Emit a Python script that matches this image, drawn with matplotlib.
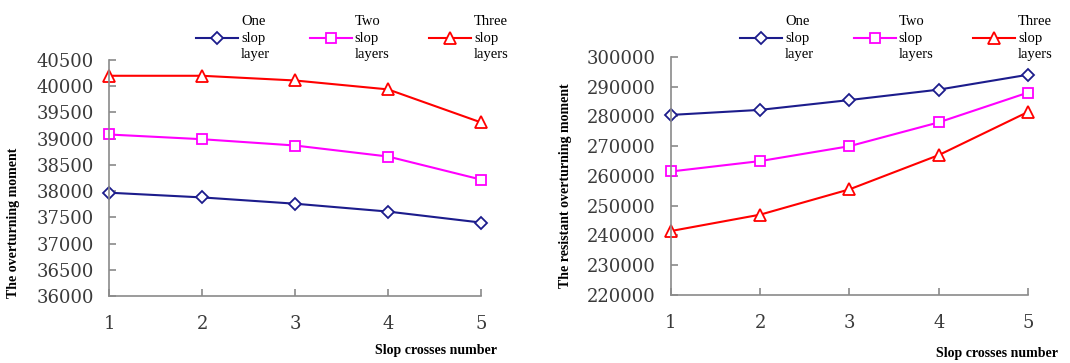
import numpy as np
import matplotlib
matplotlib.use("Agg")
import matplotlib.pyplot as plt

# data
crosses = [1, 2, 3, 4, 5]
names = ["One\nslop\nlayer", "Two\nslop\nlayers", "Three\nslop\nlayers"]
overturn_one = [37970, 37880, 37760, 37610, 37400]
overturn_two = [39080, 38990, 38870, 38660, 38220]
overturn_three = [40200, 40200, 40110, 39940, 39310]
resist_one = [280500, 282200, 285500, 289000, 294000]
resist_two = [261500, 265000, 270000, 278000, 288000]
resist_three = [241500, 247000, 255500, 267000, 281500]
left_ticks = [36000, 36500, 37000, 37500, 38000, 38500, 39000, 39500, 40000, 40500]
right_ticks = [220000, 230000, 240000, 250000, 260000, 270000, 280000, 290000, 300000]

colors = ["#1c1c8c", "#ff00ff", "#ff0000"]
markers = ["D", "s", "^"]
msizes = [6, 7, 8]
grey = "#8a8a8a"

fig = plt.figure(figsize=(10.7, 3.63), dpi=100)
ax1 = fig.add_axes([0.1019, 0.1846, 0.3477, 0.650])
ax2 = fig.add_axes([0.6271, 0.1873, 0.3336, 0.656])


def style(ax, yt, ylab, xlab, ylab_pos, xlab_pos):
    for s in ["top", "right"]:
        ax.spines[s].set_visible(False)
    for s in ["left", "bottom"]:
        ax.spines[s].set_color(grey)
        ax.spines[s].set_linewidth(1.2)
    ax.set_xlim(1, 5)
    ax.set_ylim(yt[0], yt[-1])
    ax.set_xticks(crosses)
    ax.set_yticks(yt)
    ax.tick_params(direction="in", color=grey, length=5, width=1.2,
                   labelsize=13, labelcolor="#3a3a3a")
    ax.tick_params(axis="x", pad=14)
    ax.tick_params(axis="y", pad=11)
    for lab in ax.get_xticklabels() + ax.get_yticklabels():
        lab.set_family("DejaVu Serif")
    ax.set_ylabel(ylab, family="Liberation Serif", fontweight="bold", fontsize=10)
    ax.yaxis.set_label_coords(*ylab_pos)
    ax.set_xlabel(xlab, family="Liberation Serif", fontweight="bold", fontsize=10)
    ax.xaxis.set_label_coords(*xlab_pos)


series_l = [overturn_one, overturn_two, overturn_three]
series_r = [resist_one, resist_two, resist_three]
for vals, c, m, ms in zip(series_l, colors, markers, msizes):
    ax1.plot(crosses, vals, color=c, lw=1.5, marker=m, ms=ms, mfc="white",
             mec=c, mew=1.3, clip_on=False)
for vals, c, m, ms in zip(series_r, colors, markers, msizes):
    ax2.plot(crosses, vals, color=c, lw=1.5, marker=m, ms=ms, mfc="white",
             mec=c, mew=1.3, clip_on=False)

style(ax1, left_ticks, "The overturning moment", "Slop crosses number",
      (-0.24, 0.31), (0.88, -0.203))
style(ax2, right_ticks, "The resistant overturning moment", "Slop crosses number",
      (-0.277, 0.458), (0.914, -0.218))

leg_kw = dict(ncol=3, frameon=False, handlelength=2.9, handletextpad=0.2,
              columnspacing=2.7, labelspacing=0.2,
              prop={"family": "Liberation Serif", "size": 10.5})
leg1 = ax1.legend(ax1.get_lines(), names, loc="upper right",
                  bbox_to_anchor=(522 / 1070, 1 - 2 / 363),
                  bbox_transform=fig.transFigure, **leg_kw)
leg2 = ax2.legend(ax2.get_lines(), names, loc="upper right",
                  bbox_to_anchor=(1066 / 1070, 1 - 2 / 363),
                  bbox_transform=fig.transFigure, **leg_kw)
for leg in [leg1, leg2]:
    for t in leg.get_texts():
        t.set_linespacing(1.35)

fig.savefig("out.png", dpi=100)
